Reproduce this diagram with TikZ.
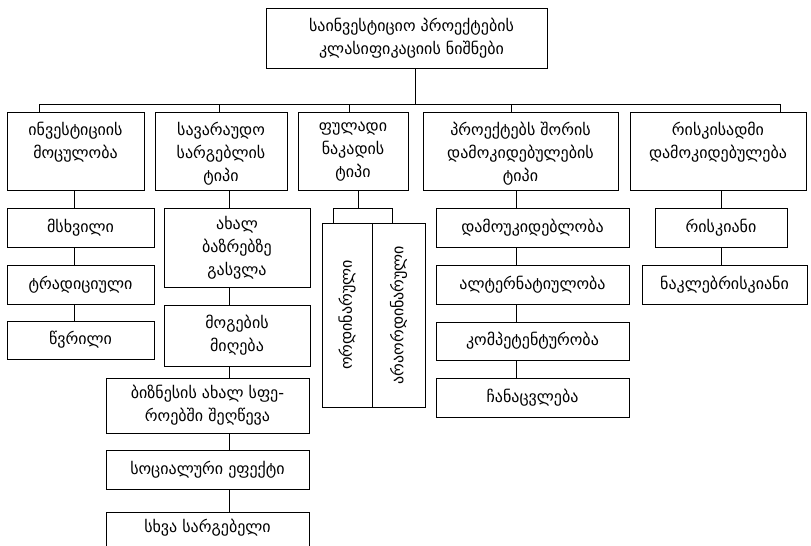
\documentclass[tikz,border=0pt]{standalone}
\usepackage{fontspec}
\setmainfont{DejaVu Sans}
\newcommand\gfs{\fontsize{16}{23}\selectfont}
\tikzset{
  bx/.style={draw=black, line width=1pt, inner sep=0pt, outer sep=0pt, fill=white},
  tx/.style={font=\gfs, align=center, inner sep=0pt},
  ln/.style={draw=black, line width=1pt},
}
\newcommand\mkbox[6]{%
  \node[bx, minimum width={#4-#2}, minimum height={#5-#3}] (#1) at ({(#2+#4)/2},{(#3+#5)/2}) {};
  \node[tx] (#1t) at (#1.center) {#6};}
\newcommand\mkhead[6]{%
  \node[bx, minimum width={#4-#2}, minimum height={#5-#3}] (#1) at ({(#2+#4)/2},{(#3+#5)/2}) {};
  \node[tx, anchor=north] (#1t) at ([yshift=-10pt]#1.north) {#6};}
\newcommand\mkvert[6]{%
  \node[bx, minimum width={#4-#2}, minimum height={#5-#3}] (#1) at ({(#2+#4)/2},{(#3+#5)/2}) {};
  \node[tx, rotate=90] (#1t) at (#1.center) {#6};}
\begin{document}
\begin{tikzpicture}[x=1pt,y=-1pt]
\useasboundingbox (0,0) rectangle (811,546);
\clip (0,0) rectangle (811,546);
\fill[white] (0,0) rectangle (811,546);
% top
\node[bx, minimum width=281, minimum height=60] (top) at (406.5,38) {};
\node[tx] (topt) at ([xshift=5pt]top.center) {საინვესტიციო პროექტების\\კლასიფიკაციის ნიშნები};
% headers
\mkhead{h1}{7}{112}{144}{190}{ინვესტიციის\\მოცულობა}
\mkhead{h2}{155}{112}{287}{190}{სავარაუდო\\სარგებლის\\ტიპი}
\mkhead{h3}{298}{112}{408}{190}{ფულადი\\ნაკადის\\ტიპი}
\mkhead{h4}{423}{112}{618}{190}{პროექტებს შორის\\დამოკიდებულების\\ტიპი}
\mkhead{h5}{630}{112}{806}{190}{რისკისადმი\\დამოკიდებულება}
% column 1
\mkbox{c11}{7}{208}{154}{247}{მსხვილი}
\mkbox{c12}{7}{265}{154}{304}{ტრადიციული}
\mkbox{c13}{7}{321}{154}{359}{წვრილი}
% column 2
\mkbox{c21}{164}{208}{310}{287}{ახალ\\ბაზრებზე\\გასვლა}
\mkbox{c22}{164}{305}{310}{366}{მოგების\\მიღება}
\mkbox{c23}{106}{378}{309}{433}{ბიზნესის ახალ სფე-\\როებში შეღწევა}
\mkbox{c24}{106}{450}{309}{489}{სოციალური ეფექტი}
\node[bx, minimum width=203, minimum height=50] (c25) at (207.5,537) {};
\node[tx] (c25t) at (207.5,528) {სხვა სარგებელი};
% column 3
\mkvert{v1}{322}{223}{372}{407}{ორდინარული}
\mkvert{v2}{372}{223}{425}{407}{არაორდინარული}
% column 4
\mkbox{d1}{436}{208}{629}{247}{დამოუკიდებლობა}
\mkbox{d2}{436}{265}{629}{304}{ალტერნატიულობა}
\mkbox{d3}{436}{322}{629}{360}{კომპეტენტურობა}
\mkbox{d4}{436}{378}{629}{417}{ჩანაცვლება}
% column 5
\mkbox{r1}{655}{208}{787}{247}{რისკიანი}
\mkbox{r2}{642}{265}{807}{304}{ნაკლებრისკიანი}
% bus
\coordinate (m) at (415,104);
\coordinate (busL) at (39,104);
\coordinate (busR) at (780,104);
\coordinate (p2) at (219,104);
\coordinate (p3) at (349,104);
\coordinate (p4) at (511,104);
\draw[ln] (top.south -| m) -- (m);
\draw[ln] (busL) -- (busR);
\draw[ln] (busL) -- (h1.north -| busL);
\draw[ln] (p2) -- (h2.north -| p2);
\draw[ln] (p3) -- (h3.north -| p3);
\draw[ln] (p4) -- (h4.north -| p4);
\draw[ln] (busR) -- (h5.north -| busR);
% column connectors
\coordinate (x1) at (74,0);
\coordinate (x2) at (229,0);
\coordinate (x4) at (516,0);
\coordinate (x5) at (721,0);
\draw[ln] (h1.south -| x1) -- (c11.north -| x1);
\draw[ln] (c11.south -| x1) -- (c12.north -| x1);
\draw[ln] (c12.south -| x1) -- (c13.north -| x1);
\draw[ln] (h2.south -| x2) -- (c21.north -| x2);
\draw[ln] (c21.south -| x2) -- (c22.north -| x2);
\draw[ln] (c22.south -| x2) -- (c23.north -| x2);
\draw[ln] (c23.south -| x2) -- (c24.north -| x2);
\draw[ln] (c24.south -| x2) -- (c25.north -| x2);
\draw[ln] (h4.south -| x4) -- (d1.north -| x4);
\draw[ln] (d1.south -| x4) -- (d2.north -| x4);
\draw[ln] (d2.south -| x4) -- (d3.north -| x4);
\draw[ln] (d3.south -| x4) -- (d4.north -| x4);
\draw[ln] (h5.south -| x5) -- (r1.north -| x5);
\draw[ln] (r1.south -| x5) -- (r2.north -| x5);
% column 3 bracket
\coordinate (b3) at (358,208);
\coordinate (bl) at (333,208);
\coordinate (br) at (392,208);
\draw[ln] (h3.south -| b3) -- (b3);
\draw[ln] (v1.north -| bl) -- (bl) -- (br) -- (v2.north -| br);
\end{tikzpicture}
\end{document}
